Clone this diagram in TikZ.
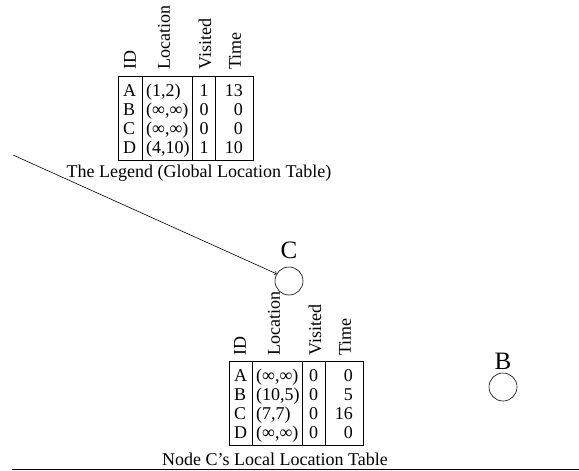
\documentclass[tikz,border=0pt]{standalone}
\usepackage{fontspec}
\setmainfont{Liberation Serif}
\begin{document}
\begin{tikzpicture}[x=1pt,y=-1pt,
  cell/.style={inner sep=0pt,anchor=base west,font=\fontsize{18}{18}\selectfont},
  cellr/.style={inner sep=0pt,anchor=base east,font=\fontsize{18}{18}\selectfont},
  cellc/.style={inner sep=0pt,anchor=base,font=\fontsize{18}{18}\selectfont},
  hdr/.style={inner sep=0pt,rotate=90,anchor=west,font=\fontsize{18}{18}\selectfont},
  capt/.style={inner sep=0pt,font=\fontsize{18}{18}\selectfont},
  tbl/.style={draw,line width=0.6pt},
  sensor/.style={circle,draw,line width=0.6pt,minimum size=28pt,inner sep=0pt},
  lbl/.style={inner sep=0pt,font=\fontsize{25}{25}\selectfont}]
\useasboundingbox (0,0) rectangle (579,471);
% ---- global table ----
\draw[tbl] (118,76) rectangle (253,160);
\draw[tbl] (142,76) -- (142,160) (192,76) -- (192,160) (215,76) -- (215,160);
\node[hdr] (g-h1) at (130,70) {ID};
\node[hdr] (g-h2) at (164,70) {Location};
\node[hdr] (g-h3) at (205,70) {Visited};
\node[hdr] (g-h4) at (235,70) {Time};
\foreach \i/\a/\b/\c [count=\k] in {A/{(1,2)}/1/13, B/{(∞,∞)}/0/0, C/{(∞,∞)}/0/0, D/{(4,10)}/1/10}{
  \pgfmathsetmacro{\yy}{76+20+19*(\k-1)}
  \node[cell]  (g-\k-1) at (123,\yy) {\i};
  \node[cell]  (g-\k-2) at (146,\yy) {\a};
  \node[cellc] (g-\k-3) at (204,\yy) {\b};
  \node[cellr] (g-\k-4) at (243,\yy) {\c};
}
\node[capt] (gcap) at (199,173) {The Legend (Global Location Table)};
% ---- local table ----
\draw[tbl] (229,361) rectangle (363,445);
\draw[tbl] (252,361) -- (252,445) (302,361) -- (302,445) (325,361) -- (325,445);
\node[hdr] (l-h1) at (240,356) {ID};
\node[hdr] (l-h2) at (274,356) {Location};
\node[hdr] (l-h3) at (315,356) {Visited};
\node[hdr] (l-h4) at (345,356) {Time};
\foreach \i/\a/\b/\c [count=\k] in {A/{(∞,∞)}/0/0, B/{(10,5)}/0/5, C/{(7,7)}/0/16, D/{(∞,∞)}/0/0}{
  \pgfmathsetmacro{\yy}{361+20+19*(\k-1)}
  \node[cell]  (l-\k-1) at (234,\yy) {\i};
  \node[cell]  (l-\k-2) at (256,\yy) {\a};
  \node[cellc] (l-\k-3) at (313.5,\yy) {\b};
  \node[cellr] (l-\k-4) at (353,\yy) {\c};
}
\node[capt] (lcap) at (275,459) {Node C’s Local Location Table};
\draw[line width=0.8pt] (12,469) coordinate (ls) -- (579,469) coordinate (le);
% ---- nodes ----
\node[sensor] (C) at (289,281) {};
\node[lbl] (Clbl) at (289,250) {C};
\node[sensor] (B) at (503,387) {};
\node[lbl] (Blbl) at (503,361) {B};
\coordinate (src) at (13,155);
\draw[->,line width=0.6pt] (src) -- (C.150);
\end{tikzpicture}
\end{document}
